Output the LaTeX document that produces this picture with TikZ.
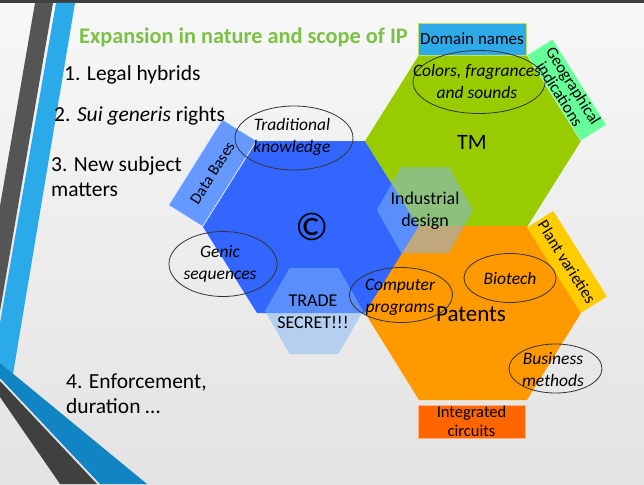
\documentclass[tikz,border=0pt]{standalone}
\usepackage{fontspec}
\setmainfont{Carlito}
\usetikzlibrary{shapes.geometric}
\definecolor{cBlue}{RGB}{51,102,255}
\definecolor{cGreen}{RGB}{153,204,0}
\definecolor{cOrange}{RGB}{255,153,0}
\definecolor{cLight}{RGB}{130,182,248}
\definecolor{cDB}{RGB}{102,153,255}
\definecolor{cDomain}{RGB}{46,170,232}
\definecolor{cGeo}{RGB}{102,255,153}
\definecolor{cPlant}{RGB}{255,204,0}
\definecolor{cIC}{RGB}{255,102,0}
\definecolor{cTitle}{RGB}{122,193,70}
\definecolor{cStripe}{RGB}{42,170,232}
\definecolor{cStripeD}{RGB}{17,133,196}
\definecolor{cGrayA}{RGB}{85,85,85}
\definecolor{cGrayB}{RGB}{64,64,64}
\newcommand{\hexshape}[4]{({#1-#3},#2) -- ({#1-#3/2},{#2-#4}) -- ({#1+#3/2},{#2-#4}) -- ({#1+#3},#2) -- ({#1+#3/2},{#2+#4}) -- ({#1-#3/2},{#2+#4}) -- cycle}
\tikzset{
  listtext/.style={inner sep=0pt, anchor=west, align=left, font=\fontsize{21.5}{25}\selectfont, text=black},
  hexlabel/.style={inner sep=0pt, align=center, font=\fontsize{18}{22}\selectfont},
  elli/.style={ellipse, draw=black!80, line width=0.8pt, inner sep=0pt},
  ellitext/.style={inner sep=0pt, align=center, font=\fontsize{17.5}{22}\selectfont\itshape},
  rbox/.style={inner sep=0pt, align=center, font=\fontsize{16}{16}\selectfont}
}
\begin{document}
\begin{tikzpicture}[x=1pt,y=-1pt]
\useasboundingbox (0,0) rectangle (644,484);
% background
\shade[top color=gray!6, bottom color=gray!22] (0,0) rectangle (644,484);
\fill[cGrayB] (0,0) rectangle (644,3);
% left decoration
\fill[cGrayA] (35,3) -- (53,3) -- (0,311) -- (0,206) -- cycle;
\fill[cStripe] (56,3) -- (75,3) -- (13,374) -- (0,363) -- (0,323) -- cycle;
\fill[cStripeD] (0,363) -- (147,484) -- (100,484) -- (0,378) -- cycle;
\fill[cGrayB] (0,381) -- (97,484) -- (60,484) -- (0,397) -- cycle;
% hexagons
\fill[cBlue] \hexshape{311}{227}{108}{86};
\fill[cGreen] \hexshape{473}{141}{108}{86};
\fill[cOrange] \hexshape{473}{313}{108}{87};
\fill[cLight, fill opacity=0.5] \hexshape{425}{210}{48}{43};
\fill[cLight, fill opacity=0.5] \hexshape{314}{311}{49}{43};
% side boxes
\node[rbox, fill=cDB, draw=white!70!cDB, line width=0.6pt, rotate=57.9, minimum width=101, minimum height=40] (db) at (212.5,173) {Data Bases};
\node[rbox, fill=cGeo, draw=white!60!cGeo, line width=0.6pt, rotate=-57.9, minimum width=101, minimum height=30, font=\fontsize{16.5}{16}\selectfont] (geo) at (566.7,90) {Geographical\\indications};
\node[rbox, fill=cPlant, rotate=-57.9, minimum width=101, minimum height=31, font=\fontsize{16.5}{17}\selectfont] (plant) at (567,262) {Plant varieties};
\node[rbox, fill=cDomain, draw=cGreen!60, line width=0.8pt, minimum width=108, minimum height=32, font=\fontsize{17}{18}\selectfont] (dom) at (472,39) {Domain names};
\node[rbox, fill=cIC, draw=cIC!50, line width=0.8pt, minimum width=107, minimum height=33, font=\fontsize{16.5}{19}\selectfont] (ic) at (471.5,421.5) {Integrated\\circuits};
% hex labels
\node[hexlabel, font=\fontsize{22}{24}\selectfont] (tm) at (472,142) {TM};
\node[hexlabel, font=\fontsize{40}{40}\selectfont] (copy) at (312,227) {©};
\node[hexlabel] (ind) at (425,211) {Industrial\\design};
\node[hexlabel] (trade) at (313,312) {TRADE\\SECRET!!!};
\node[hexlabel, font=\fontsize{23}{24}\selectfont] (pat) at (471,314) {Patents};
% ellipses
\node[elli, minimum width=118, minimum height=64] (etrad) at (294,138) {};
\node[ellitext] (ttrad) at (292,137) {Traditional\\knowledge};
\node[elli, minimum width=132, minimum height=63] (ecol) at (479,82) {};
\node[ellitext] (tcol) at (477,81) {Colors, fragrances\\and sounds};
\node[elli, minimum width=108, minimum height=65] (egen) at (223,264) {};
\node[ellitext] (tgen) at (220,264) {Genic\\sequences};
\node[elli, minimum width=103, minimum height=55] (ecomp) at (401,295) {};
\node[ellitext] (tcomp) at (400,297.5) {Computer\\programs};
\node[elli, minimum width=92, minimum height=49] (ebio) at (510,278) {};
\node[ellitext] (tbio) at (510,278) {Biotech};
\node[elli, minimum width=93, minimum height=49] (ebus) at (555.5,368.5) {};
\node[ellitext] (tbus) at (553,370) {Business\\methods};
% title and list
\node[inner sep=0pt, anchor=west, text=cTitle, font=\fontsize{22.3}{24}\selectfont\bfseries] (title) at (79,37) {Expansion in nature and scope of IP};
\node[listtext] (l1) at (64,75) {1. Legal hybrids};
\node[listtext] (l2) at (54,116) {2. \textit{Sui generis} rights};
\node[listtext] (l3) at (51,176.5) {3. New subject\\matters};
\node[listtext] (l4) at (66,393.5) {4. Enforcement,\\duration …};
\end{tikzpicture}
\end{document}
